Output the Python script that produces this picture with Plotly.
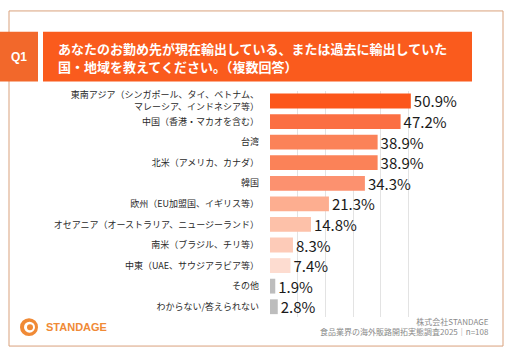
import plotly.graph_objects as go

categories = [
    "東南アジア（シンガポール、タイ、ベトナム、<br>マレーシア、インドネシア等）",
    "中国（香港・マカオを含む）",
    "台湾",
    "北米（アメリカ、カナダ）",
    "韓国",
    "欧州（EU加盟国、イギリス等）",
    "オセアニア（オーストラリア、ニュージーランド）",
    "南米（ブラジル、チリ等）",
    "中東（UAE、サウジアラビア等）",
    "その他",
    "わからない/答えられない",
]
values = [50.9, 47.2, 38.9, 38.9, 34.3, 21.3, 14.8, 8.3, 7.4, 1.9, 2.8]
bar_colors = ["#FC561B", "#FB6F43", "#FB8258", "#FB8258", "#FC916F", "#FDAE90",
              "#FDC1A9", "#FDCBB8", "#FDDCD0", "#BDBDBD", "#BDBDBD"]

title_line1 = "あなたのお勤め先が現在輸出している、または過去に輸出していた"
title_line2 = "国・地域を教えてください。（複数回答）"
footer1 = "株式会社STANDAGE"
footer2 = "食品業界の海外販路開拓実態調査2025｜n=108"

W, H = 512, 355
def px(x):
    return x / W
def py(y):
    return 1 - y / H

JP = "Noto Sans CJK JP"

fig = go.Figure(go.Bar(
    x=values, y=categories, orientation="h",
    marker=dict(color=bar_colors, line=dict(width=0)),
    texttemplate="%{x:.1f}%", textposition="outside",
    textfont=dict(family=JP, size=15, color="#1a1a1a"),
    constraintext="none", cliponaxis=False,
    hoverinfo="skip",
))

top_px, bot_px = 89.2, 316.8
fig.update_layout(
    width=W, height=H,
    margin=dict(l=0, r=0, t=0, b=0),
    paper_bgcolor="white", plot_bgcolor="white",
    showlegend=False, bargap=0.28,
    font=dict(family=JP),
    xaxis=dict(domain=[px(270), px(436)], range=[0, 60], dtick=10,
               showgrid=True, gridcolor="#E3E3E3", gridwidth=1,
               showticklabels=False, zeroline=False, showline=False, fixedrange=True),
    yaxis=dict(domain=[py(bot_px), py(top_px)], autorange="reversed",
               showgrid=False, showline=False, ticks="",
               tickfont=dict(family=JP, size=9, color="#2a2a2a"),
               ticklabelstandoff=10),
    shapes=[
        dict(type="rect", xref="paper", yref="paper", x0=px(9), x1=px(503), y0=py(346), y1=py(9),
             line=dict(color="#D9A17C", width=1), fillcolor="rgba(0,0,0,0)", layer="below"),
        dict(type="rect", xref="paper", yref="paper", x0=px(0), x1=px(38), y0=py(80), y1=py(30),
             line=dict(width=0), fillcolor="#F2682B"),
        dict(type="rect", xref="paper", yref="paper", x0=px(43), x1=px(472), y0=py(80), y1=py(30),
             line=dict(width=0), fillcolor="#FA5B1D"),
        # logo mark
        dict(type="circle", xref="paper", yref="paper", x0=px(20), x1=px(38), y0=py(336), y1=py(318),
             line=dict(width=0), fillcolor="#F08A36"),
        dict(type="circle", xref="paper", yref="paper", x0=px(24), x1=px(35), y0=py(332.5), y1=py(321.5),
             line=dict(width=0), fillcolor="white"),
        dict(type="circle", xref="paper", yref="paper", x0=px(27), x1=px(33), y0=py(330), y1=py(324),
             line=dict(width=0), fillcolor="#F08A36"),
    ],
    annotations=[
        dict(text="<b>Q1</b>", x=px(19), y=py(55), xref="paper", yref="paper", showarrow=False,
             font=dict(family="Liberation Sans", size=12, color="white"), xanchor="center", yanchor="middle"),
        dict(text="<b>" + title_line1 + "</b>", x=px(56), y=py(46.5),
             xref="paper", yref="paper", showarrow=False, align="left",
             font=dict(family=JP, size=13, color="white"), xanchor="left", yanchor="middle"),
        dict(text="<b>" + title_line2 + "</b>", x=px(56), y=py(64.5),
             xref="paper", yref="paper", showarrow=False, align="left",
             font=dict(family=JP, size=13, color="white"), xanchor="left", yanchor="middle"),
        dict(text=footer1 + "<br>" + footer2, x=px(491), y=py(326), xref="paper", yref="paper",
             showarrow=False, align="right", xanchor="right", yanchor="middle",
             font=dict(family=JP, size=8, color="#8a8a8a")),
        dict(text="<b>STANDAGE</b>", x=px(44), y=py(327), xref="paper", yref="paper", showarrow=False,
             xanchor="left", yanchor="middle",
             font=dict(family="Liberation Sans", size=11, color="#F08A36")),
    ],
)

fig.write_html("out.html", config={"displayModeBar": False},
               post_script="document.body.style.margin='0';document.body.style.overflow='hidden';")
